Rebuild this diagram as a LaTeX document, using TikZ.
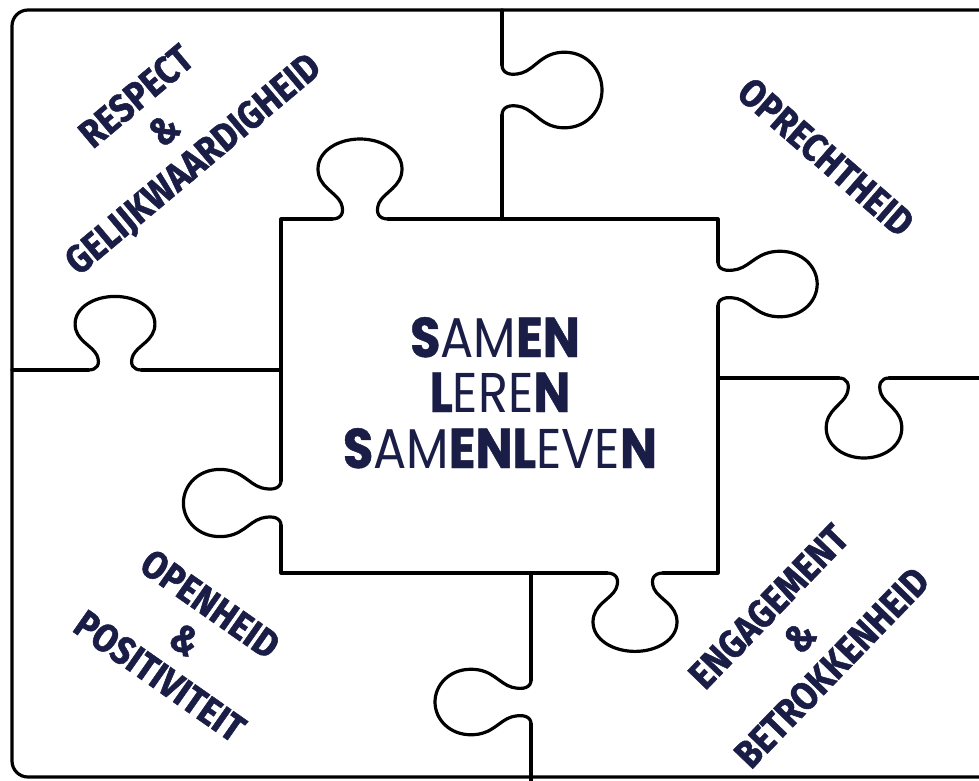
\documentclass[tikz,border=0pt]{standalone}
\usepackage{fontspec}
\setmainfont{Fira Sans}
\newfontfamily\labfont{Fira Sans}[FakeStretch=0.88, BoldFeatures={FakeBold=1.3}]
\newfontfamily\ctrfont{Poppins}[FakeStretch=0.88, BoldFeatures={FakeBold=0.8}]
\definecolor{navy}{HTML}{1A1D45}
\newcommand\bl[1]{{\bfseries #1}}
\tikzset{
  edge/.style={draw=black, line width=3.2pt, line cap=round, line join=round},
  knob/.pic={\draw[edge] (-28,0) .. controls (-19,0) and (-15,-6) .. (-19,-16)
      .. controls (-24,-27) and (-42,-32) .. (-42,-50)
      .. controls (-42,-68) and (-22,-80) .. (0,-80)
      .. controls (22,-80) and (42,-68) .. (42,-50)
      .. controls (42,-32) and (24,-27) .. (19,-16)
      .. controls (15,-6) and (19,0) .. (28,0);},
  lbl/.style={text=navy, align=center, inner sep=0pt,
      font=\labfont\bfseries\fontsize{39}{44}\selectfont},
  ctr/.style={text=navy, inner sep=0pt, anchor=base,
      font=\ctrfont\fontsize{56}{56}\selectfont}
}
\begin{document}
\begin{tikzpicture}[x=1pt,y=-1pt]
\useasboundingbox (0,0) rectangle (979,780);
\clip (0,0) rectangle (979,780);
\fill[white] (0,0) rectangle (979,780);
% outer frame
\draw[edge, rounded corners=16pt] (1000,10) -- (12,10) -- (12,777) -- (1000,777);
% centre piece
\draw[edge] (332,219) -- (281,219) -- (281,480.6);
\draw[edge] (281,525.4) -- (281,573) -- (607,573);
\draw[edge] (663,573) -- (718,573) -- (718,305.8);
\draw[edge] (718,262.2) -- (718,219) -- (388,219);
% dividing lines
\draw[edge] (12,370) -- (88.4,370);
\draw[edge] (141.6,370) -- (281,370);
\draw[edge] (502,10) -- (502,64.8);
\draw[edge] (502,115.2) -- (502,219);
\draw[edge] (718,378) -- (838.8,378);
\draw[edge] (889.2,378) -- (990,378);
\draw[edge] (531,573) -- (531,680.2);
\draw[edge] (531,723.8) -- (531,790);
% knobs
\pic at (360,219) {knob};
\pic[xscale=0.95, yscale=0.92] at (115,370) {knob};
\pic[rotate=-90, xscale=0.9, yscale=1.25] at (502,90) {knob};
\pic[rotate=-90, xscale=0.78, yscale=1.24] at (718,284) {knob};
\pic[rotate=180, xscale=0.9, yscale=1.0] at (864,378) {knob};
\pic[rotate=180, xscale=1.0, yscale=0.98] at (635,573) {knob};
\pic[rotate=90, xscale=0.78, yscale=1.2] at (531,702) {knob};
\pic[rotate=90, xscale=0.8, yscale=1.22] at (281,503) {knob};
% labels
\node[lbl, rotate=40] (resp) at (166,132) {RESPECT\\\&\\GELIJKWAARDIGHEID};
\node[lbl, rotate=-41] (opr) at (826,157) {OPRECHTHEID};
\node[lbl, rotate=-35] (open) at (185,640) {OPENHEID\\\&\\POSITIVITEIT};
\node[lbl, rotate=46] (eng) at (800,637) {ENGAGEMENT\\\&\\BETROKKENHEID};
% centre text
\node[ctr] (l1) at (495,357) {\bl{S}AM\bl{EN}};
\node[ctr] (l2) at (500,412) {\bl{L}ERE\bl{N}};
\node[ctr] (l3) at (500,468) {\bl{S}AM\bl{ENL}EVE\bl{N}};
\end{tikzpicture}
\end{document}
